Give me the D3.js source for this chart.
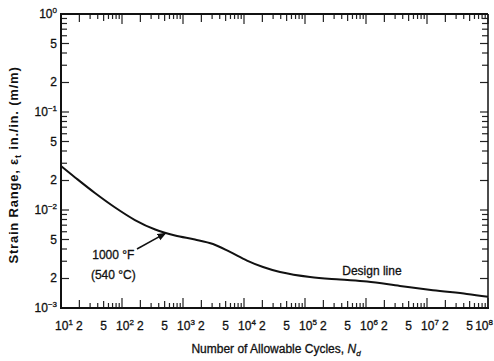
<!DOCTYPE html>
<html>
<head>
<meta charset="utf-8">
<script src="https://cdn.jsdelivr.net/npm/d3@7/dist/d3.min.js"></script>
<style>
  html, body { margin: 0; padding: 0; background: #fff; }
  svg { display: block; }
  text { font-family: "Liberation Sans", Arial, sans-serif; fill: #111; }
  .heavy { stroke: #111; stroke-width: 0.3; }
</style>
</head>
<body>
<svg id="chart" width="494" height="361"></svg>
<script>
// ---- Data ----
const cycles = [10, 17, 36, 77, 163, 350, 740, 1570, 3100, 5900, 11200, 20500, 39000,
                121000, 375000, 1040000, 3600000, 12500000, 45000000, 100000000];
const strainRange = [0.0281, 0.0215, 0.0149, 0.0106, 0.0079, 0.00632, 0.00549, 0.0050,
                     0.0045, 0.00373, 0.00305, 0.00262, 0.00233, 0.00207, 0.00195, 0.00186,
                     0.00168, 0.00152, 0.00139, 0.00130];
const xExponents = [1, 2, 3, 4, 5, 6, 7, 8];
const yExponents = [-3, -2, -1, 0];
const labelledMantissas = [2, 5];
const xTitle = "Number of Allowable Cycles, ";
const yTitleA = "Strain Range, ε";
const yTitleB = " in./in. (m/m)";
const noteLines = ["1000 °F", "(540 °C)"];
const designLabel = "Design line";

// ---- Layout ----
const svg = d3.select("#chart");
const L = 61, T = 14, R = 488, B = 308;
const x = d3.scaleLog().domain([1e1, 1e8]).range([L, R]);
const y = d3.scaleLog().domain([1e-3, 1e0]).range([B, T]);

function minorValues(exps, maxExp) {
  const v = [];
  exps.forEach(e => {
    for (let m = 1; m <= 9; m++) {
      if (e === maxExp && m > 1) break;
      v.push({ v: m * Math.pow(10, e), m: m, e: e });
    }
  });
  return v;
}
const xTicks = minorValues(xExponents, 8);
const yTicks = minorValues(yExponents, 0);
const tickLen = m => m === 1 ? 10 : (m === 2 ? 8 : (m === 5 ? 7 : 5));

const g = svg.append("g");

// ticks on four sides (pointing inward)
g.selectAll(".xb").data(xTicks).join("line")
  .attr("x1", d => x(d.v)).attr("x2", d => x(d.v))
  .attr("y1", B).attr("y2", d => B - tickLen(d.m))
  .attr("stroke", "#222").attr("stroke-width", 1.2);
g.selectAll(".xt").data(xTicks).join("line")
  .attr("x1", d => x(d.v)).attr("x2", d => x(d.v))
  .attr("y1", T).attr("y2", d => T + tickLen(d.m))
  .attr("stroke", "#222").attr("stroke-width", 1.2);
g.selectAll(".yl").data(yTicks).join("line")
  .attr("y1", d => y(d.v)).attr("y2", d => y(d.v))
  .attr("x1", L).attr("x2", d => L + (d.m === 1 || d.m === 2 || d.m === 5 ? 8 : 6))
  .attr("stroke", "#222").attr("stroke-width", 1.2);
g.selectAll(".yr").data(yTicks).join("line")
  .attr("y1", d => y(d.v)).attr("y2", d => y(d.v))
  .attr("x1", R).attr("x2", d => R - (d.m === 1 || d.m === 2 || d.m === 5 ? 8 : 6))
  .attr("stroke", "#222").attr("stroke-width", 1.2);

// frame
g.append("line").attr("x1", L).attr("x2", L).attr("y1", T - 1).attr("y2", B + 1).attr("stroke", "#111").attr("stroke-width", 2);
g.append("line").attr("x1", L - 1).attr("x2", R + 1).attr("y1", B).attr("y2", B).attr("stroke", "#111").attr("stroke-width", 2);
g.append("line").attr("x1", L).attr("x2", R).attr("y1", T).attr("y2", T).attr("stroke", "#111").attr("stroke-width", 1.8);
g.append("line").attr("x1", R).attr("x2", R).attr("y1", T).attr("y2", B).attr("stroke", "#111").attr("stroke-width", 1.5);

// x tick labels
const xLab = xTicks.filter(d => d.m === 1 || labelledMantissas.includes(d.m));
xLab.forEach(d => {
  const last = d.e === 8;
  const t = g.append("text").attr("class", "heavy")
    .attr("x", last ? 493 : x(d.v) + (d.m === 1 ? 3 : 0)).attr("y", 330)
    .attr("text-anchor", last ? "end" : "middle").attr("font-size", 12);
  if (d.m === 1) {
    t.append("tspan").text("10");
    t.append("tspan").attr("font-size", 8).attr("dy", -5).text(d.e);
  } else {
    t.text(d.m);
  }
});

// y tick labels
const yLab = yTicks.filter(d => d.m === 1 || labelledMantissas.includes(d.m));
yLab.forEach(d => {
  const t = g.append("text").attr("class", "heavy").attr("x", 57).attr("y", y(d.v) + 4)
    .attr("text-anchor", "end").attr("font-size", 12);
  if (d.m === 1) {
    t.append("tspan").text("10");
    t.append("tspan").attr("font-size", 8).attr("dy", -5).text(d.e === 0 ? "0" : "−" + Math.abs(d.e));
  } else {
    t.text(d.m);
  }
});

// curve
const line = d3.line().x((d, i) => x(cycles[i])).y((d, i) => y(strainRange[i])).curve(d3.curveCatmullRom.alpha(0.5));
g.append("path").attr("d", line(cycles)).attr("fill", "none").attr("stroke", "#111").attr("stroke-width", 2);

// annotation arrow
svg.append("defs").append("marker").attr("id", "ah").attr("viewBox", "0 0 10 10")
  .attr("refX", 9).attr("refY", 5).attr("markerWidth", 9).attr("markerHeight", 9)
  .attr("markerUnits", "userSpaceOnUse").attr("orient", "auto")
  .append("path").attr("d", "M0,1 L10,5 L0,9 Z").attr("fill", "#111");
g.append("line")
  .attr("x1", x(176)).attr("y1", y(0.0040))
  .attr("x2", x(520)).attr("y2", y(0.0058))
  .attr("stroke", "#111").attr("stroke-width", 1.5).attr("marker-end", "url(#ah)");
noteLines.forEach((s, i) => {
  g.append("text").attr("class", "heavy").attr("x", x(72)).attr("y", y(0.00317) + i * 20)
    .attr("text-anchor", "middle").attr("font-size", 12).text(s);
});
g.append("text").attr("class", "heavy").attr("x", x(1.25e6)).attr("y", y(0.00216))
  .attr("text-anchor", "middle").attr("font-size", 12).text(designLabel);

// axis titles
const xt = svg.append("text").attr("class", "heavy").attr("x", 276).attr("y", 353).attr("text-anchor", "middle").attr("font-size", 12);
xt.append("tspan").text(xTitle);
xt.append("tspan").attr("font-style", "italic").text("N");
xt.append("tspan").attr("font-style", "italic").attr("font-size", 8).attr("dy", 3).text("d");

const yt = svg.append("text").attr("transform", "translate(18,165) rotate(-90)")
  .attr("text-anchor", "middle").attr("font-size", 13).attr("font-weight", "bold")
  .attr("letter-spacing", 0.8);
yt.append("tspan").text(yTitleA);
yt.append("tspan").attr("font-size", 9).attr("dy", 3).text("t");
yt.append("tspan").attr("dy", -3).text(yTitleB);
</script>
</body>
</html>
